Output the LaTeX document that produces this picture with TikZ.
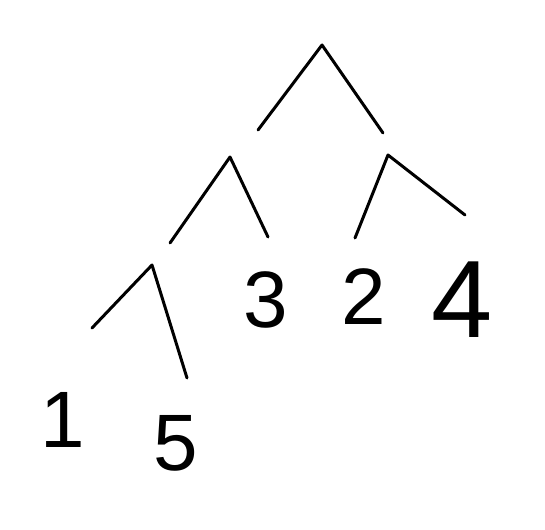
\documentclass[tikz,border=0pt]{standalone}
\usepackage{fontspec}
\setmainfont{Liberation Sans}
\begin{document}
\begin{tikzpicture}[x=1pt, y=-1pt, line width=3pt, line cap=round, line join=round,
    leaf/.style={inner sep=0pt, font=\fontsize{80}{80}\selectfont}]
            \useasboundingbox (0, 0) rectangle (545, 529);
            \path (322, 45) coordinate (R);
            \path (258, 130) coordinate (RL);
            \path (383, 133) coordinate (RR);
            \path (230, 157) coordinate (A);
            \path (170, 243) coordinate (AL);
            \path (268, 237) coordinate (AR);
            \path (388, 155) coordinate (B);
            \path (355, 238) coordinate (BL);
            \path (465, 215) coordinate (BR);
            \path (152, 265) coordinate (C);
            \path (92, 328) coordinate (CL);
            \path (187, 378) coordinate (CR);
            \node[leaf] (n1) at (63, 420) {1};
            \node[leaf] (n5) at (176, 443) {5};
            \node[leaf] (n3) at (266, 300) {3};
            \node[leaf] (n2) at (364, 297) {2};
            \node[leaf, font=\fontsize{110}{110}\selectfont] (n4) at (462, 300) {4};
            \draw (RL) -- (R) -- (RR);
            \draw (AL) -- (A) -- (AR);
            \draw (BL) -- (B) -- (BR);
            \draw (CL) -- (C) -- (CR);
        \end{tikzpicture}
\end{document}
